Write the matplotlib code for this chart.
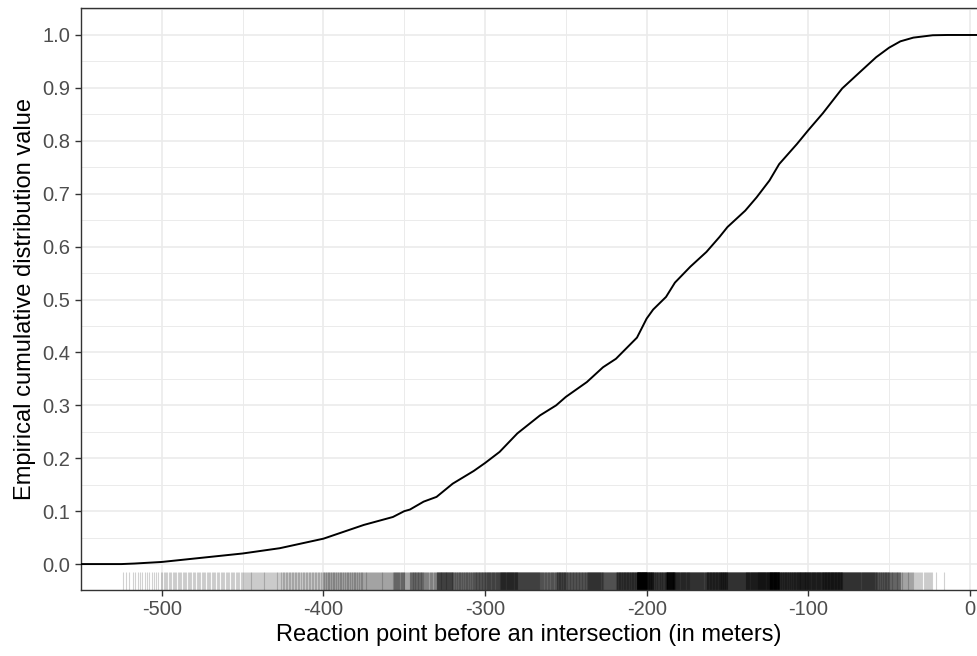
import matplotlib.pyplot as plt
from matplotlib.ticker import MultipleLocator
import numpy as np

plt.rcParams['font.family'] = ['Liberation Sans', 'DejaVu Sans']

# ECDF curve (distance in m, cumulative share)
dist = [-550, -525, -517, -500, -450, -427, -400, -375, -357, -350, -346.5, -338, -330,
        -320, -307, -300, -291, -280, -266, -256, -250, -237, -227, -219, -206,
        -200, -196, -188, -182.5, -173, -163, -155, -150, -139, -132, -124, -118,
        -107, -100, -91, -79, -68, -58, -50, -43, -35, -23, -14, 5]
ecdf = [0.0, 0.0, 0.001, 0.004, 0.020, 0.030, 0.048, 0.074, 0.089, 0.100, 0.103, 0.118, 0.127,
        0.152, 0.176, 0.191, 0.212, 0.247, 0.281, 0.300, 0.316, 0.344, 0.372, 0.388, 0.428,
        0.464, 0.481, 0.505, 0.532, 0.562, 0.590, 0.618, 0.637, 0.668, 0.693, 0.725, 0.756,
        0.794, 0.820, 0.852, 0.899, 0.930, 0.958, 0.976, 0.988, 0.995, 0.9995, 1.0, 1.0]

# rug: observations placed at the quantiles of the curve above
n_obs = 4000
levels = (np.arange(n_obs) + 0.5) / n_obs
rug_x = np.interp(levels, ecdf[1:-1], dist[1:-1])

x_ticks = [-500, -400, -300, -200, -100, 0]
y_ticks = [0.0, 0.1, 0.2, 0.3, 0.4, 0.5, 0.6, 0.7, 0.8, 0.9, 1.0]

fig = plt.figure(figsize=(9.77, 6.56), dpi=100)
ax = fig.add_axes([81 / 977, 66 / 656, 1 - 81 / 977, 582 / 656])

ax.plot(dist, ecdf, color='black', linewidth=1.4, zorder=3)
ax.vlines(rug_x, 0, 0.031, transform=ax.get_xaxis_transform(),
          color='black', alpha=0.18, linewidth=0.8, zorder=2)

ax.set_xlim(-550, 4.4)
ax.set_ylim(-0.049, 1.051)
ax.set_xticks(x_ticks)
ax.set_xticklabels([str(v) for v in x_ticks])
ax.set_yticks(y_ticks)
ax.set_yticklabels([f'{v:.1f}' for v in y_ticks])
ax.xaxis.set_minor_locator(MultipleLocator(50))
ax.yaxis.set_minor_locator(MultipleLocator(0.05))

ax.grid(which='major', color='#EBEBEB', linewidth=1.2, zorder=0)
ax.grid(which='minor', color='#EBEBEB', linewidth=0.7, zorder=0)
ax.set_axisbelow(True)

for side in ['left', 'top', 'bottom']:
    ax.spines[side].set_color('#333333')
    ax.spines[side].set_linewidth(1.0)
ax.spines['right'].set_visible(False)

ax.tick_params(which='major', length=4.5, width=1.0, color='#333333',
               labelcolor='#4D4D4D', labelsize=14.5, pad=3)
ax.tick_params(which='minor', length=0)

ax.set_xlabel('Reaction point before an intersection (in meters)', fontsize=17, labelpad=3)
ax.set_ylabel('Empirical cumulative distribution value', fontsize=17, labelpad=5)

plt.savefig('out.png', dpi=100)
